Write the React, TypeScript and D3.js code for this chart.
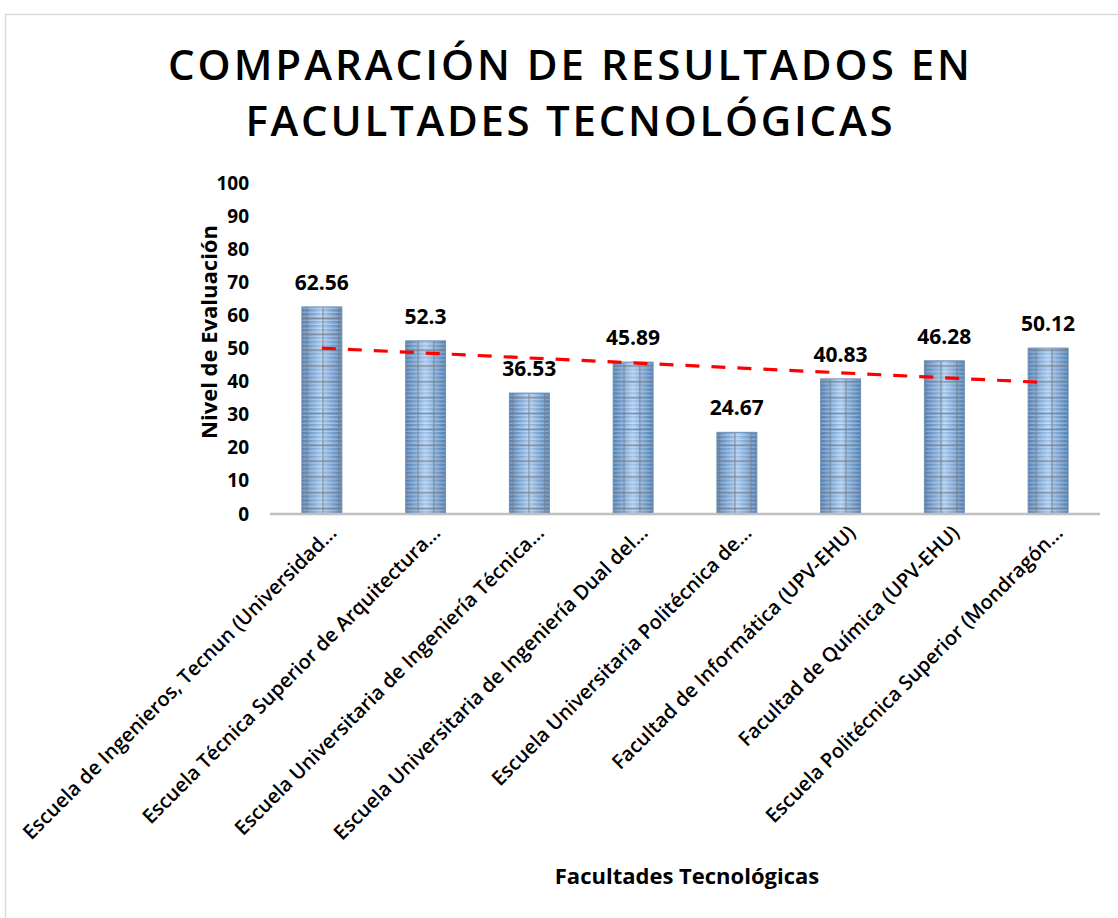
import React, { Component } from "react";
import * as d3 from "d3";

const categories = [
  "Escuela de Ingenieros, Tecnun (Universidad...",
  "Escuela Técnica Superior de Arquitectura...",
  "Escuela Universitaria de Ingeniería Técnica...",
  "Escuela Universitaria de Ingeniería Dual del...",
  "Escuela Universitaria Politécnica de...",
  "Facultad de Informática (UPV-EHU)",
  "Facultad de Química (UPV-EHU)",
  "Escuela Politécnica Superior (Mondragón...",
];
const values = [62.56, 52.3, 36.53, 45.89, 24.67, 40.83, 46.28, 50.12];
const yTicks = [0, 10, 20, 30, 40, 50, 60, 70, 80, 90, 100];
const titleLines = ["COMPARACIÓN DE RESULTADOS EN", "FACULTADES TECNOLÓGICAS"];

const FONT = "'Open Sans', 'Liberation Sans', sans-serif";

class App extends Component {
  componentDidMount() {
    this.drawChart();
  }

  drawChart() {
    const width = 1118;
    const height = 918;

    const canvas = d3.select("#canvas");
    canvas.selectAll("*").remove();

    const svg = canvas
      .append("svg")
      .attr("width", width)
      .attr("height", height)
      .style("display", "block")
      .style("font-family", FONT);

    svg.append("rect").attr("width", width).attr("height", height).attr("fill", "#fff");

    // chart border
    svg
      .append("rect")
      .attr("x", 5.5)
      .attr("y", 14.5)
      .attr("width", width + 20)
      .attr("height", height + 20)
      .attr("fill", "none")
      .attr("stroke", "#d9d9d9")
      .attr("stroke-width", 1.5);

    const defs = svg.append("defs");
    const grad = defs
      .append("linearGradient")
      .attr("id", "barGrad")
      .attr("x1", "0%")
      .attr("x2", "100%")
      .attr("y1", "0%")
      .attr("y2", "0%");
    [
      [0, "#4f7cae"],
      [0.25, "#7ea7d6"],
      [0.5, "#afcff0"],
      [0.75, "#7ea7d6"],
      [1, "#4f7cae"],
    ].forEach(([o, c]) => grad.append("stop").attr("offset", o as number).attr("stop-color", c as string));

    const cell = 15.85;
    const pat = defs
      .append("pattern")
      .attr("id", "barTex")
      .attr("patternUnits", "userSpaceOnUse")
      .attr("x", 5.3)
      .attr("y", 1)
      .attr("width", cell)
      .attr("height", cell);
    for (let i = 0; i < 4; i++) {
      pat
        .append("rect")
        .attr("x", 0)
        .attr("y", i * (cell / 4) + 1.6)
        .attr("width", cell)
        .attr("height", 1.5)
        .attr("fill", "#ffffff")
        .attr("opacity", 0.3);
      pat
        .append("rect")
        .attr("x", 0)
        .attr("y", i * (cell / 4) + 3.3)
        .attr("width", cell)
        .attr("height", 0.8)
        .attr("fill", "#4a6a90")
        .attr("opacity", 0.25);
    }
    pat
      .append("line")
      .attr("x1", 0)
      .attr("x2", cell)
      .attr("y1", 0.6)
      .attr("y2", 0.6)
      .attr("stroke", "#76808c")
      .attr("stroke-width", 1.3)
      .attr("opacity", 0.8);
    pat
      .append("line")
      .attr("x1", 0.6)
      .attr("x2", 0.6)
      .attr("y1", 0)
      .attr("y2", cell)
      .attr("stroke", "#76808c")
      .attr("stroke-width", 1.3)
      .attr("opacity", 0.8);

    // title
    const titleLens = [802, 647];
    titleLines.forEach((t, i) => {
      svg
        .append("text")
        .attr("x", 569)
        .attr("y", 80 + i * 56)
        .attr("text-anchor", "middle")
        .attr("textLength", titleLens[i])
        .attr("lengthAdjust", "spacing")
        .style("font-size", "42px")
        .style("font-weight", 600)
        .style("fill", "#000")
        .text(t);
    });

    const x = d3
      .scaleBand()
      .domain(categories)
      .range([270, 1100])
      .paddingInner(0.615)
      .paddingOuter(0.3075);

    const y = d3.scaleLinear().domain([0, 100]).range([514, 183]);

    // y tick labels
    const yAxis = svg
      .append("g")
      .attr("transform", "translate(255,0)")
      .call(d3.axisLeft(y).tickValues(yTicks).tickSize(0).tickPadding(6));
    yAxis.select(".domain").remove();
    yAxis
      .selectAll("text")
      .style("font-family", FONT)
      .style("font-size", "19px")
      .style("font-weight", 700)
      .style("fill", "#000");

    // bars
    const bars = svg.append("g");
    const barData = categories.map((c, i) => ({ name: c, value: values[i] }));
    bars
      .selectAll("rect.bar")
      .data(barData)
      .enter()
      .append("rect")
      .attr("class", "bar")
      .attr("x", (d) => x(d.name)!)
      .attr("y", (d) => y(d.value))
      .attr("width", x.bandwidth())
      .attr("height", (d) => y(0) - y(d.value))
      .attr("fill", "url(#barGrad)")
      .attr("stroke", "#6d8fb6")
      .attr("stroke-width", 1);
    bars
      .selectAll("rect.tex")
      .data(barData)
      .enter()
      .append("rect")
      .attr("class", "tex")
      .attr("x", (d) => x(d.name)! + 0.5)
      .attr("y", (d) => y(d.value) + 0.5)
      .attr("width", x.bandwidth() - 1)
      .attr("height", (d) => y(0) - y(d.value) - 0.5)
      .attr("fill", "url(#barTex)");

    // x axis line
    svg
      .append("line")
      .attr("x1", 270)
      .attr("x2", 1100)
      .attr("y1", y(0))
      .attr("y2", y(0))
      .attr("stroke", "#bfbfbf")
      .attr("stroke-width", 2.5);

    // data labels
    svg
      .append("g")
      .selectAll("text")
      .data(barData)
      .enter()
      .append("text")
      .attr("x", (d) => x(d.name)! + x.bandwidth() / 2)
      .attr("y", (d) => y(d.value) - 17)
      .attr("text-anchor", "middle")
      .style("font-size", "21px")
      .style("font-weight", 700)
      .style("fill", "#000")
      .text((d) => String(d.value));

    // linear trend line
    const n = values.length;
    const xs = values.map((_, i) => i + 1);
    const mx = d3.mean(xs)!;
    const my = d3.mean(values)!;
    const slope =
      d3.sum(xs.map((xi, i) => (xi - mx) * (values[i] - my))) / d3.sum(xs.map((xi) => (xi - mx) ** 2));
    const icpt = my - slope * mx;
    const trend = barData.map((d, i) => ({ name: d.name, v: icpt + slope * (i + 1) }));
    const line = d3
      .line<{ name: string; v: number }>()
      .x((d) => x(d.name)! + x.bandwidth() / 2)
      .y((d) => y(d.v));
    svg
      .append("path")
      .datum([trend[0], trend[n - 1]])
      .attr("d", line)
      .attr("fill", "none")
      .attr("stroke", "#ff0000")
      .attr("stroke-width", 3.2)
      .attr("stroke-dasharray", "14,12");

    // category labels
    svg
      .append("g")
      .selectAll("text")
      .data(categories)
      .enter()
      .append("text")
      .attr("transform", (d) => `translate(${x(d)! + x.bandwidth() / 2 + 16},534) rotate(-45)`)
      .attr("text-anchor", "end")
      .style("font-size", "20px")
      .style("font-weight", 600)
      .style("fill", "#000")
      .text((d) => d);

    // axis titles
    svg
      .append("text")
      .attr("transform", "translate(217,332) rotate(-90)")
      .attr("text-anchor", "middle")
      .style("font-size", "22px")
      .style("font-weight", 700)
      .style("fill", "#000")
      .text("Nivel de Evaluación");

    svg
      .append("text")
      .attr("x", 687)
      .attr("y", 884)
      .attr("text-anchor", "middle")
      .style("font-size", "22px")
      .style("font-weight", 700)
      .style("fill", "#000")
      .text("Facultades Tecnológicas");
  }

  render() {
    return <div id="canvas" style={{ position: "absolute", left: 0, top: 0 }}></div>;
  }
}

export default App;
